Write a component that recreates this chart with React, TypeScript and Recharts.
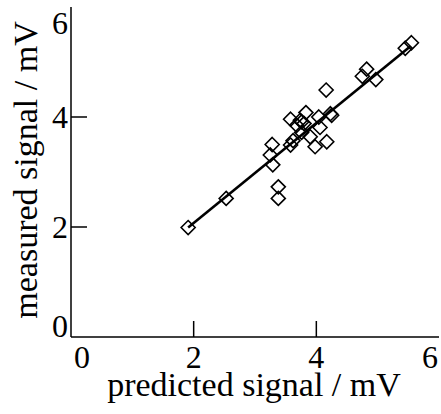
import React from 'react';
import { ComposedChart, Scatter, XAxis, YAxis, ReferenceLine } from 'recharts';

const predicted = [1.91, 2.53, 3.38, 3.38, 3.29, 3.25, 3.28, 3.58, 3.58, 3.76, 3.80, 3.83, 3.76, 3.90, 3.98, 4.17, 4.06, 4.04, 4.23, 4.25, 4.16, 4.75, 4.82, 4.97, 5.45, 5.55, 3.74, 3.62, 3.68];
const measured = [1.99, 2.52, 2.73, 2.52, 3.13, 3.31, 3.50, 3.49, 3.96, 3.91, 3.88, 4.08, 3.72, 3.64, 3.46, 3.55, 3.81, 4.00, 4.06, 4.03, 4.49, 4.74, 4.87, 4.68, 5.25, 5.35, 3.94, 3.57, 3.85];
const fitX = [1.91, 5.53];
const fitY = [1.99, 5.28];
const tickValues = [0, 2, 4, 6];
const xTitle = 'predicted signal / mV';
const yTitle = 'measured signal / mV';

const points = predicted.map((x, i) => ({ x, y: measured[i] }));
const FONT = "'Liberation Serif', 'Times New Roman', serif";
const TICK_FS = 32;
const TITLE_FS = 34;
const TICK_LEN = 16;

const Diamond = (props: any) => {
  const { cx, cy } = props;
  const r = 7;
  return (
    <path
      d={`M${cx},${cy - r}L${cx + r},${cy}L${cx},${cy + r}L${cx - r},${cy}Z`}
      fill="none"
      stroke="#000"
      strokeWidth={1.6}
    />
  );
};

const inner = (v: number) => v !== tickValues[0] && v !== tickValues[tickValues.length - 1];

const BottomTick = (props: any) => {
  const { x, y, payload } = props;
  const v = payload.value;
  let anchor: any = 'middle';
  let tx = x;
  if (v === tickValues[0]) { anchor = 'start'; tx = x + 3; }
  if (v === tickValues[tickValues.length - 1]) { anchor = 'end'; tx = x + 1; }
  return (
    <g>
      {inner(v) && <line x1={x} y1={y} x2={x} y2={y - TICK_LEN} stroke="#000" strokeWidth={1.5} />}
      <text x={tx} y={y + 31} textAnchor={anchor} style={{ fontFamily: FONT }} fontSize={TICK_FS} fill="#000">{v}</text>
    </g>
  );
};

const LeftTick = (props: any) => {
  const { x, y, payload } = props;
  const v = payload.value;
  let ty = y + 11;
  if (v === tickValues[0]) ty = y;
  if (v === tickValues[tickValues.length - 1]) ty = y + 25;
  return (
    <g>
      {inner(v) && <line x1={x} y1={y} x2={x + TICK_LEN} y2={y} stroke="#000" strokeWidth={1.5} />}
      <text x={x - 3} y={ty} textAnchor="end" style={{ fontFamily: FONT }} fontSize={TICK_FS} fill="#000">{v}</text>
    </g>
  );
};

const TopTick = (props: any) => {
  const { x, y, payload } = props;
  const v = payload.value;
  return inner(v) ? <line x1={x} y1={y} x2={x} y2={y + TICK_LEN} stroke="#000" strokeWidth={1.5} /> : <g />;
};

const RightTick = (props: any) => {
  const { x, y, payload } = props;
  const v = payload.value;
  return inner(v) ? <line x1={x} y1={y} x2={x - TICK_LEN} y2={y} stroke="#000" strokeWidth={1.5} /> : <g />;
};

const XTitle = (props: any) => {
  const vb = props.viewBox;
  return (
    <text x={vb.x + vb.width / 2 - 1} y={vb.y + 59} textAnchor="middle" style={{ fontFamily: FONT }} fontSize={TITLE_FS} fill="#000">{xTitle}</text>
  );
};

const YTitle = (props: any) => {
  const vb = props.viewBox;
  const cx = 37;
  const cy = vb.y + vb.height / 2 - 2;
  return (
    <text x={cx} y={cy} transform={`rotate(-90 ${cx} ${cy})`} textAnchor="middle" style={{ fontFamily: FONT }} fontSize={TITLE_FS} fill="#000">{yTitle}</text>
  );
};

export default function App() {
  return (
    <div style={{ position: 'absolute', left: 0, top: 0, background: '#fff' }}>
      <ComposedChart width={441} height={414} margin={{ top: 7, right: 2, bottom: 0, left: 0 }}>
        <XAxis xAxisId="b" type="number" dataKey="x" domain={[0, 6]} ticks={tickValues} orientation="bottom" height={77}
          axisLine={{ stroke: '#000', strokeWidth: 1.5 }} tickLine={false} tickSize={0} tickMargin={0} tick={<BottomTick />}
          label={<XTitle />} allowDataOverflow />
        <XAxis xAxisId="t" type="number" domain={[0, 6]} ticks={tickValues} orientation="top" height={0}
          axisLine={{ stroke: '#000', strokeWidth: 1.5 }} tickLine={false} tickSize={0} tickMargin={0} tick={<TopTick />} />
        <YAxis yAxisId="l" type="number" dataKey="y" domain={[0, 6]} ticks={tickValues} orientation="left" width={71}
          axisLine={{ stroke: '#000', strokeWidth: 1.5 }} tickLine={false} tickSize={0} tickMargin={0} tick={<LeftTick />}
          label={<YTitle />} allowDataOverflow />
        <YAxis yAxisId="r" type="number" domain={[0, 6]} ticks={tickValues} orientation="right" width={0}
          axisLine={{ stroke: '#000', strokeWidth: 1.5 }} tickLine={false} tickSize={0} tickMargin={0} tick={<RightTick />} />
        <ReferenceLine xAxisId="b" yAxisId="l"
          segment={[{ x: fitX[0], y: fitY[0] }, { x: fitX[1], y: fitY[1] }]}
          stroke="#000" strokeWidth={2.6} />
        <Scatter xAxisId="b" yAxisId="l" data={points} dataKey="y" shape={<Diamond />} isAnimationActive={false} />
      </ComposedChart>
    </div>
  );
}
